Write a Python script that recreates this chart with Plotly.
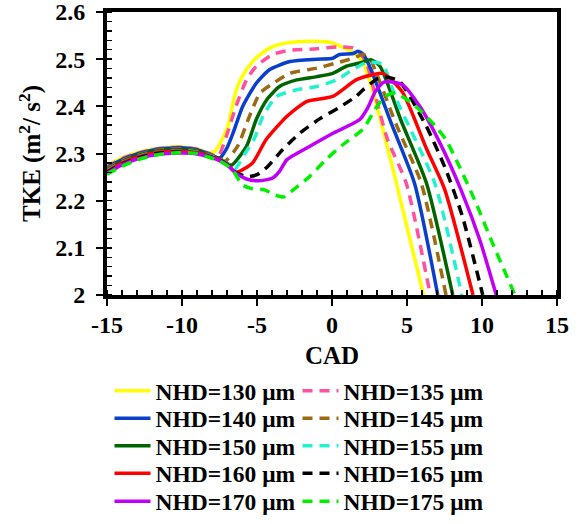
import plotly.graph_objects as go

# ---- data ----
labels = ["NHD=130 μm", "NHD=135 μm", "NHD=140 μm", "NHD=145 μm", "NHD=150 μm",
          "NHD=155 μm", "NHD=160 μm", "NHD=165 μm", "NHD=170 μm", "NHD=175 μm"]

x130 = [-15, -14, -13, -12, -11, -10, -9, -8.2, -7.8, -7.4, -6.95, -6.5, -6.15, -5.7, -5.05, -4.15, -3.3, -2.3, -1.3, 0.0, 0.7, 1.4, 2.05, 2.6, 4.1, 6.1]
y130 = [2.275, 2.291, 2.302, 2.309, 2.313, 2.314, 2.310, 2.301, 2.305, 2.325, 2.357, 2.421, 2.453, 2.478, 2.503, 2.524, 2.533, 2.537, 2.538, 2.535, 2.525, 2.514, 2.494, 2.445, 2.262, 2.0]

x135 = [-15, -14, -13, -12, -11, -10, -9, -8.2, -7.6, -7.05, -6.4, -5.7, -5.05, -3.95, -2.8, -1.0, 0.3, 1.4, 1.85, 2.3, 2.85, 3.7, 4.95, 6.55]
y135 = [2.272, 2.289, 2.300, 2.308, 2.312, 2.313, 2.309, 2.300, 2.294, 2.336, 2.400, 2.456, 2.485, 2.510, 2.519, 2.522, 2.526, 2.524, 2.513, 2.492, 2.428, 2.33, 2.237, 2.0]

x140 = [-15, -14, -13, -12, -11, -10, -9, -8.2, -7.5, -7.0, -6.6, -5.95, -5.05, -4.15, -2.8, -1.0, 0.05, 0.5, 1.4, 1.75, 2.1, 2.6, 4.0, 5.5, 7.05]
y140 = [2.270, 2.287, 2.299, 2.307, 2.311, 2.312, 2.308, 2.299, 2.290, 2.312, 2.343, 2.400, 2.449, 2.478, 2.495, 2.500, 2.502, 2.510, 2.512, 2.517, 2.510, 2.478, 2.36, 2.237, 2.0]

x145 = [-15, -14, -13, -12, -11, -10, -9, -8.2, -7.5, -7.15, -6.3, -5.5, -4.8, -3.9, -2.8, -1.0, 0.3, 1.4, 2.05, 2.5, 2.95, 4.3, 5.95, 7.6]
y145 = [2.268, 2.285, 2.297, 2.305, 2.309, 2.310, 2.306, 2.298, 2.290, 2.283, 2.315, 2.379, 2.428, 2.449, 2.470, 2.481, 2.492, 2.502, 2.510, 2.503, 2.471, 2.36, 2.237, 2.0]

x150 = [-15, -14, -13, -12, -11, -10, -9, -8.2, -7.5, -7.0, -6.7, -5.7, -5.05, -4.35, -3.5, -2.35, -1.0, 0.05, 0.95, 1.85, 2.6, 3.2, 4.6, 6.3, 8.05]
y150 = [2.265, 2.283, 2.295, 2.303, 2.307, 2.308, 2.305, 2.297, 2.289, 2.279, 2.275, 2.315, 2.372, 2.414, 2.442, 2.456, 2.463, 2.470, 2.485, 2.492, 2.499, 2.485, 2.37, 2.237, 2.0]

x155 = [-15, -14, -13, -12, -11, -10, -9, -8.2, -7.5, -7.0, -6.5, -5.8, -5.2, -4.6, -3.7, -2.35, -1.0, 0.3, 1.4, 2.2, 3.0, 3.4, 4.3, 6.85, 8.65]
y155 = [2.263, 2.281, 2.293, 2.301, 2.305, 2.306, 2.303, 2.296, 2.288, 2.279, 2.266, 2.300, 2.330, 2.379, 2.421, 2.435, 2.442, 2.456, 2.478, 2.492, 2.493, 2.488, 2.414, 2.237, 2.0]

x160 = [-15, -14, -13, -12, -11, -10, -9, -8.2, -7.5, -7.0, -6.4, -5.3, -4.4, -3.0, -1.7, 0.05, 1.6, 2.7, 3.4, 4.7, 6.3, 7.5, 9.4]
y160 = [2.262, 2.280, 2.292, 2.300, 2.304, 2.305, 2.302, 2.295, 2.287, 2.278, 2.260, 2.280, 2.329, 2.379, 2.410, 2.421, 2.456, 2.467, 2.470, 2.43, 2.31, 2.225, 2.0]

x165 = [-15, -14, -13, -12, -11, -10, -9, -8.2, -7.5, -7.0, -6.4, -5.7, -5.0, -4.3, -3.3, -2.15, -0.8, 0.5, 1.6, 2.1, 3.0, 3.6, 4.5, 6.3, 7.6, 8.7, 10.05]
y165 = [2.260, 2.278, 2.290, 2.298, 2.302, 2.303, 2.300, 2.294, 2.286, 2.277, 2.260, 2.251, 2.255, 2.272, 2.308, 2.343, 2.374, 2.398, 2.421, 2.436, 2.458, 2.462, 2.453, 2.357, 2.265, 2.166, 2.0]

x170 = [-15, -14, -13, -12, -11, -10, -9, -8.2, -7.5, -7.0, -6.4, -5.7, -4.9, -3.95, -3.5, -3.0, -1.5, 0.07, 1.85, 2.4, 2.9, 3.5, 4.7, 5.85, 7.2, 8.6, 9.85, 10.95]
y170 = [2.258, 2.276, 2.288, 2.296, 2.300, 2.301, 2.299, 2.293, 2.285, 2.276, 2.258, 2.246, 2.242, 2.248, 2.262, 2.287, 2.315, 2.343, 2.372, 2.398, 2.432, 2.452, 2.446, 2.400, 2.322, 2.223, 2.117, 2.0]

x175 = [-15, -14, -13, -12, -11, -10, -9, -8.2, -7.5, -7.0, -6.5, -6.0, -5.4, -4.5, -3.8, -3.2, -2.5, -1.5, -0.4, 0.7, 2.07, 2.9, 3.5, 4.2, 5.4, 6.9, 7.6, 8.5, 9.6, 10.7, 12.2]
y175 = [2.256, 2.273, 2.286, 2.295, 2.300, 2.302, 2.300, 2.292, 2.284, 2.275, 2.259, 2.234, 2.226, 2.223, 2.212, 2.208, 2.225, 2.251, 2.287, 2.318, 2.352, 2.395, 2.420, 2.428, 2.405, 2.358, 2.329, 2.272, 2.195, 2.110, 2.0]

xs = [x130, x135, x140, x145, x150, x155, x160, x165, x170, x175]
ys = [y130, y135, y140, y145, y150, y155, y160, y165, y170, y175]

colors = ["#FFFF00", "#FF4F9E", "#0A3FCC", "#9C6A10", "#006400",
          "#22F2CF", "#FF0000", "#000000", "#C000F5", "#00F000"]
dashed = [False, True, False, True, False, True, False, True, False, True]

x_ticks = [-15, -10, -5, 0, 5, 10, 15]
x_ticktext = ["-15", "-10", "-5", "0", "5", "10", "15"]
y_ticks = [2, 2.1, 2.2, 2.3, 2.4, 2.5, 2.6]
y_ticktext = ["2", "2.1", "2.2", "2.3", "2.4", "2.5", "2.6"]

FONT = "Liberation Serif"
PLOT_TOP, PLOT_BOTTOM, PLOT_LEFT, PLOT_RIGHT = 12, 295, 107, 557
row_px = [391, 418.5, 446, 473.5, 501.5]      # legend row centres (pixels)
col_px = [109.5, 297.5]                       # legend box left edges (pixels)

fig = go.Figure()
legend_layout = {}
for i in range(len(labels)):
    key = "legend" if i == 0 else f"legend{i + 1}"
    fig.add_trace(go.Scatter(
        x=xs[i], y=ys[i], mode="lines", name=labels[i], showlegend=True,
        line=dict(color=colors[i], width=3.5, shape="spline", smoothing=0.6,
                  dash="10px,7px" if dashed[i] else "solid"),
        legend=key,
    ))
    row, col = i // 2, i % 2
    legend_layout[key] = dict(
        x=(col_px[col] - PLOT_LEFT) / (PLOT_RIGHT - PLOT_LEFT),
        y=(PLOT_BOTTOM - row_px[row]) / (PLOT_BOTTOM - PLOT_TOP),
        xanchor="left", yanchor="middle", bgcolor="rgba(0,0,0,0)",
        font=dict(family=FONT, size=23.5, color="black", weight="bold"),
        itemwidth=36,
    )

axis_common = dict(
    showgrid=False, zeroline=False, showline=True, linewidth=4, linecolor="black",
    mirror=True, ticks="outside", ticklen=7, tickwidth=2, tickcolor="black",
    tickfont=dict(family=FONT, size=24, color="black", weight="bold"),
    automargin=False, ticklabeloverflow="allow",
)

fig.update_layout(
    width=579, height=524, showlegend=True,
    margin=dict(l=PLOT_LEFT, r=579 - PLOT_RIGHT, t=PLOT_TOP, b=524 - PLOT_BOTTOM, autoexpand=False),
    paper_bgcolor="white", plot_bgcolor="white",
    font=dict(family=FONT, color="black", weight="bold"),
    xaxis=dict(range=[-15, 15], tickvals=x_ticks, ticktext=x_ticktext, **axis_common,
               ticklabelstandoff=-2,
               minor=dict(ticks="inside", dtick=1, ticklen=5, tickwidth=1.5, tickcolor="black"),
               title=dict(text="CAD", font=dict(family=FONT, size=25, color="black", weight="bold"),
                          standoff=11)),
    yaxis=dict(range=[2, 2.6], tickvals=y_ticks, ticktext=y_ticktext, **axis_common,
               ticklabelstandoff=6,
               minor=dict(ticks="inside", dtick=0.02, ticklen=5, tickwidth=1.5, tickcolor="black"),
               title=dict(text="TKE (m<sup>2</sup>/ s<sup>2</sup>)",
                          font=dict(family=FONT, size=25, color="black", weight="bold"),
                          standoff=8)),
    **legend_layout,
)

fig.write_html("out.html", config={"displayModeBar": False, "staticPlot": True},
               post_script="document.body.style.margin='0';document.body.style.overflow='hidden';")
